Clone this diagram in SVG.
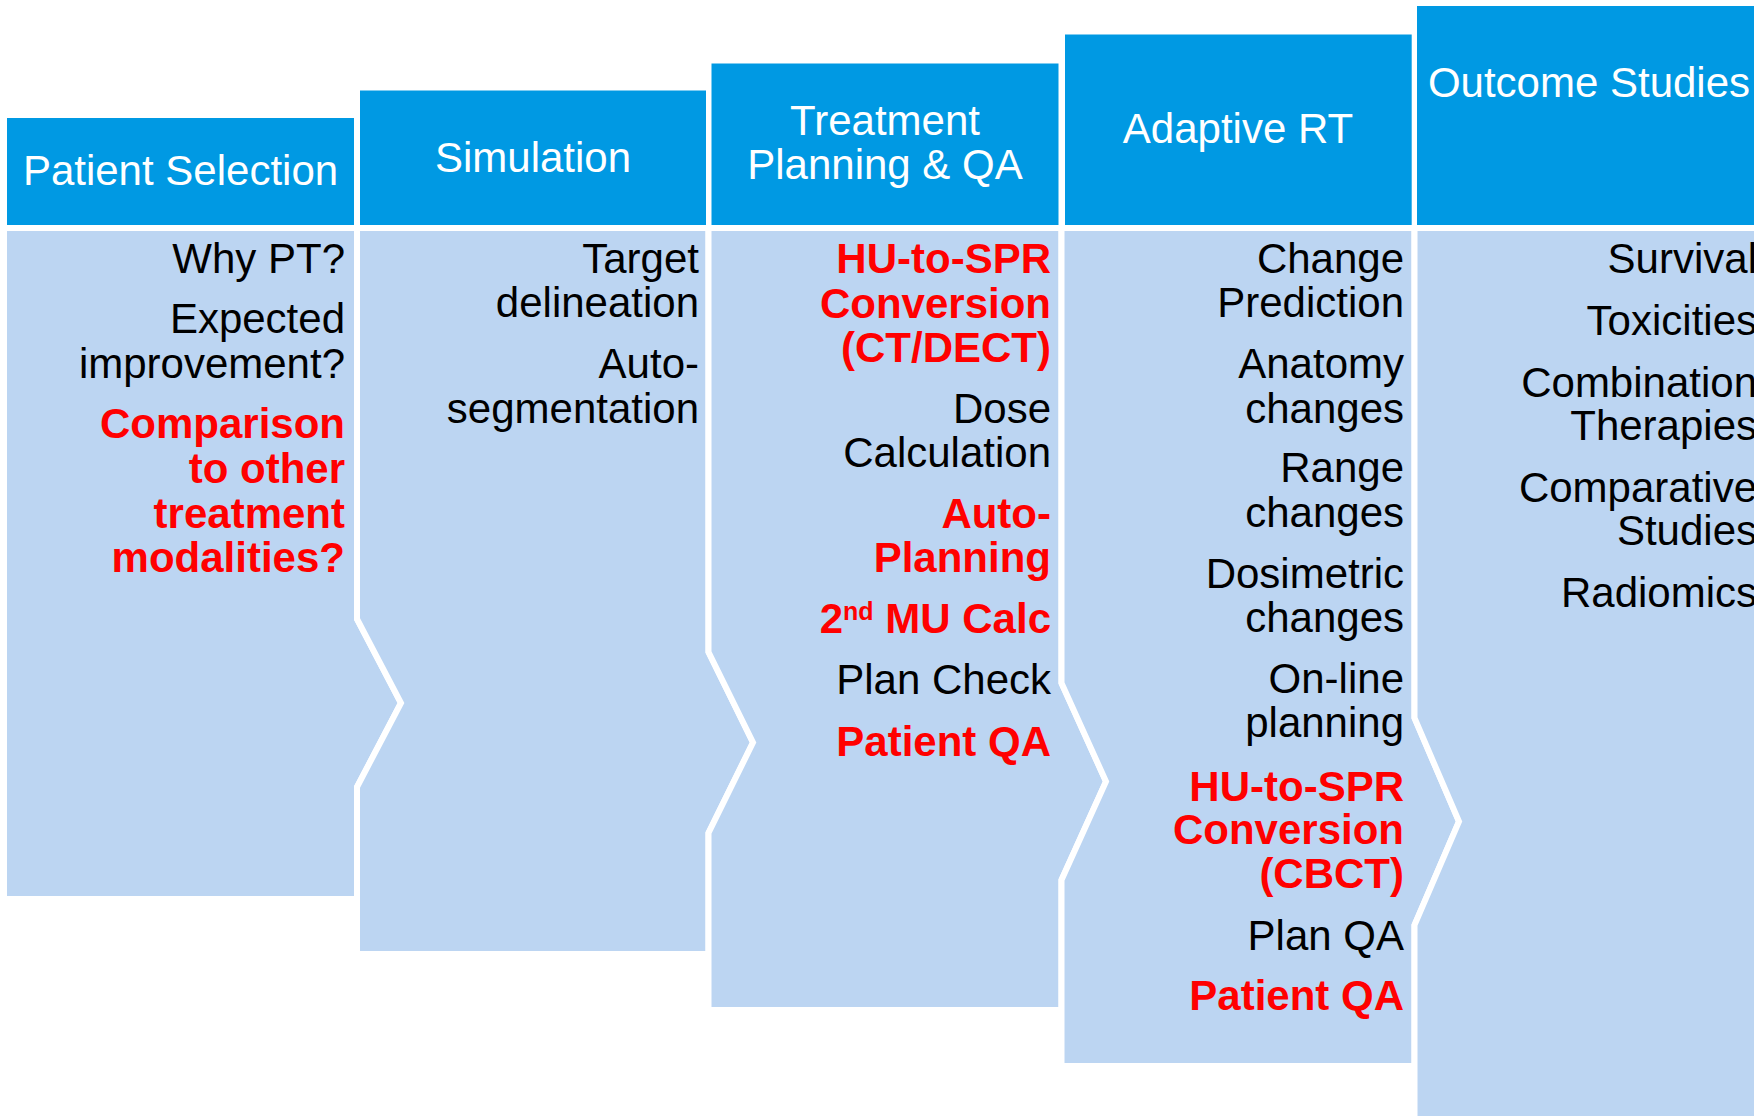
<svg xmlns="http://www.w3.org/2000/svg" width="1754" height="1116" viewBox="0 0 1754 1116">
  <style>
    .body { fill: #BCD5F2; stroke: #FFFFFF; stroke-width: 6; stroke-linejoin: miter; }
    .head { fill: #0099E3; }
    .htxt { font-family: "Liberation Sans", Arial, sans-serif; font-size: 42px; fill: #FFFFFF; text-anchor: middle; }
    .item { font-family: "Liberation Sans", Arial, sans-serif; font-size: 42px; fill: #000000; text-anchor: end; }
    .hot { font-weight: bold; fill: #FF0000; }
  </style>
  <rect x="0" y="0" width="1754" height="1116" fill="#FFFFFF"/>

  <!-- Column bodies: each stage notched on the left, pointed on the right -->
  <g id="bodies">
    <polygon id="body-selection" class="body" points="4,228 357,228 357,619 401,703 357,787 357,899 4,899"/>
    <polygon id="body-simulation" class="body" points="357,228 708.5,228 708.5,652 753,742.5 708.5,833 708.5,954 357,954 357,787 401,703 357,619"/>
    <polygon id="body-planning" class="body" points="708.5,228 1061.5,228 1061.5,683 1106,781.5 1061.5,880 1061.5,1010 708.5,1010 708.5,833 753,742.5 708.5,652"/>
    <polygon id="body-adaptive" class="body" points="1061.5,228 1414.5,228 1414.5,718 1459,821.5 1414.5,925 1414.5,1066 1061.5,1066 1061.5,880 1106,781.5 1061.5,683"/>
    <polygon id="body-outcome" class="body" points="1414.5,228 1780,228 1780,1130 1414.5,1130 1414.5,925 1459,821.5 1414.5,718"/>
  </g>

  <!-- Stage: Patient Selection -->
  <g id="stage-selection">
    <rect class="head" x="7" y="118" width="347" height="107"/>
    <text class="htxt" x="180.5" y="185">Patient Selection</text>
    <text class="item" x="345" y="273">Why PT?</text>
    <text class="item" x="345" y="333">Expected</text>
    <text class="item" x="345" y="378">improvement?</text>
    <text class="item hot" x="345" y="438">Comparison</text>
    <text class="item hot" x="345" y="483">to other</text>
    <text class="item hot" x="345" y="528">treatment</text>
    <text class="item hot" x="345" y="572">modalities?</text>
  </g>

  <!-- Stage: Simulation -->
  <g id="stage-simulation">
    <rect class="head" x="360" y="90.5" width="346" height="134.5"/>
    <text class="htxt" x="533" y="172">Simulation</text>
    <text class="item" x="699" y="273">Target</text>
    <text class="item" x="699" y="317">delineation</text>
    <text class="item" x="699" y="378">Auto-</text>
    <text class="item" x="699" y="423">segmentation</text>
  </g>

  <!-- Stage: Treatment Planning & QA -->
  <g id="stage-planning">
    <rect class="head" x="711.5" y="63.5" width="347" height="161.5"/>
    <text class="htxt" x="885" y="135">Treatment</text>
    <text class="htxt" x="885" y="179">Planning &amp; QA</text>
    <text class="item hot" x="1051" y="273">HU-to-SPR</text>
    <text class="item hot" x="1051" y="318">Conversion</text>
    <text class="item hot" x="1051" y="362">(CT/DECT)</text>
    <text class="item" x="1051" y="423">Dose</text>
    <text class="item" x="1051" y="467">Calculation</text>
    <text class="item hot" x="1051" y="528">Auto-</text>
    <text class="item hot" x="1051" y="572">Planning</text>
    <text class="item hot" x="1051" y="633">2<tspan font-size="25" dy="-13">nd</tspan><tspan dy="13"> MU Calc</tspan></text>
    <text class="item" x="1051" y="694">Plan Check</text>
    <text class="item hot" x="1051" y="756">Patient QA</text>
  </g>

  <!-- Stage: Adaptive RT -->
  <g id="stage-adaptive">
    <rect class="head" x="1065" y="34.5" width="346.7" height="190.5"/>
    <text class="htxt" x="1238" y="143">Adaptive RT</text>
    <text class="item" x="1404" y="273">Change</text>
    <text class="item" x="1404" y="317">Prediction</text>
    <text class="item" x="1404" y="378">Anatomy</text>
    <text class="item" x="1404" y="423">changes</text>
    <text class="item" x="1404" y="482">Range</text>
    <text class="item" x="1404" y="527">changes</text>
    <text class="item" x="1404" y="588">Dosimetric</text>
    <text class="item" x="1404" y="632">changes</text>
    <text class="item" x="1404" y="693">On-line</text>
    <text class="item" x="1404" y="737">planning</text>
    <text class="item hot" x="1404" y="801">HU-to-SPR</text>
    <text class="item hot" x="1404" y="844">Conversion</text>
    <text class="item hot" x="1404" y="888">(CBCT)</text>
    <text class="item" x="1404" y="950">Plan QA</text>
    <text class="item hot" x="1404" y="1010">Patient QA</text>
  </g>

  <!-- Stage: Outcome Studies (runs past the right edge) -->
  <g id="stage-outcome">
    <rect class="head" x="1417" y="6" width="360" height="219"/>
    <text class="htxt" x="1589" y="97">Outcome Studies</text>
    <text class="item" x="1757" y="273">Survival</text>
    <text class="item" x="1757" y="335">Toxicities</text>
    <text class="item" x="1757" y="397">Combination</text>
    <text class="item" x="1757" y="440">Therapies</text>
    <text class="item" x="1757" y="502">Comparative</text>
    <text class="item" x="1757" y="545">Studies</text>
    <text class="item" x="1757" y="607">Radiomics</text>
  </g>

  <!-- The stages are joined edge to edge; no separate connector lines -->
  <g id="connectors"/>
</svg>
